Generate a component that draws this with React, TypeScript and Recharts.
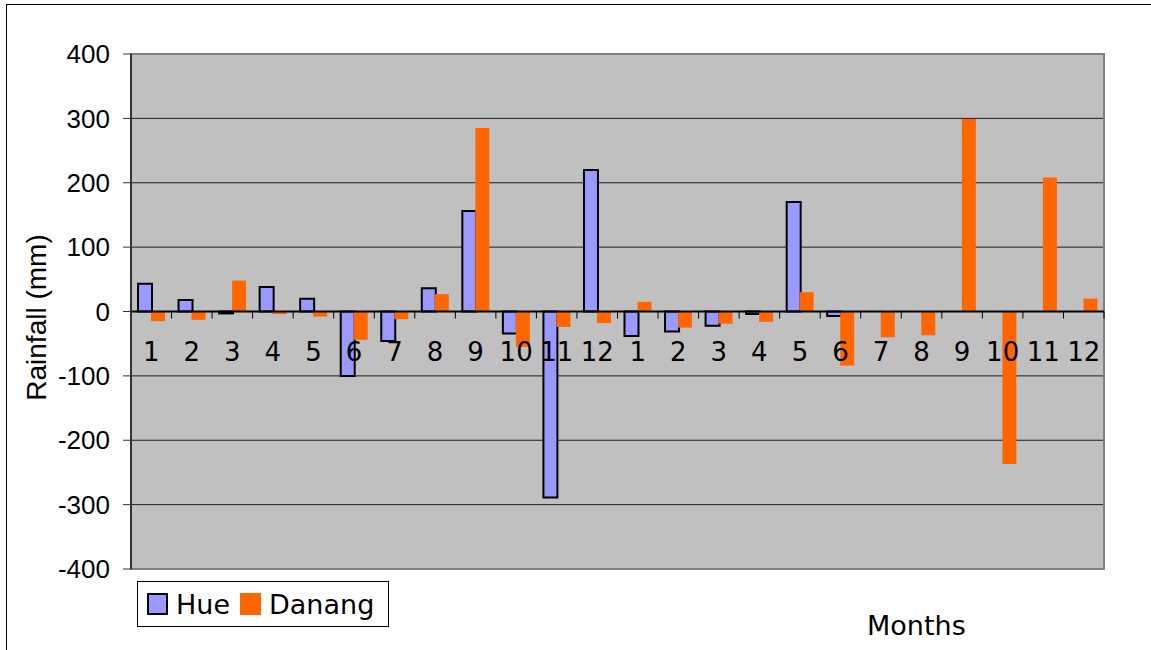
import React from "react";
import {
  BarChart,
  Bar,
  XAxis,
  YAxis,
  CartesianGrid,
  ReferenceLine,
  ReferenceArea,
  Legend,
  Label,
} from "recharts";

// two years of monthly rainfall anomaly
const MONTHS = ["1", "2", "3", "4", "5", "6", "7", "8", "9", "10", "11", "12", "1", "2", "3", "4", "5", "6", "7", "8", "9", "10", "11", "12"];
const HUE = [43, 18, -3, 38, 20, -100, -46, 36, 156, -34, -289, 220, -38, -31, -22, -4, 170, -7, null, null, null, null, null, null];
const DANANG = [-15, -13, 48, -4, -8, -44, -12, 27, 285, -55, -24, -18, 15, -25, -19, -16, 30, -84, -40, -37, 299, -237, 208, 20];
const Y_TICKS = [-400, -300, -200, -100, 0, 100, 200, 300, 400];

const data = MONTHS.map((m, i) => ({ key: `m${i}`, month: m, Hue: HUE[i], Danang: DANANG[i] }));

const W = 1151;
const H = 650;
const X_AXIS_H = 20;
const MARGIN = { top: 54, right: 47, bottom: 81 - X_AXIS_H, left: 0 };
const Y_AXIS_W = 131;
const PLOT_TOP = MARGIN.top;
const PLOT_BOTTOM = H - MARGIN.bottom - X_AXIS_H;
const ZERO_Y = (PLOT_TOP + PLOT_BOTTOM) / 2;
const BAND = (W - MARGIN.right - Y_AXIS_W) / MONTHS.length;

const verdana = "Verdana, 'DejaVu Sans', sans-serif";
const arial = "Arial, 'Liberation Sans', sans-serif";

function MonthTick(props: any) {
  const { x, index } = props;
  return (
    <g>
      <line x1={x + BAND / 2} x2={x + BAND / 2} y1={ZERO_Y} y2={ZERO_Y + 7} stroke="#000" strokeWidth={1} />
      <text x={x} y={ZERO_Y + 40} textAnchor="middle" dominantBaseline="central" fontFamily={verdana} fontSize={26} fill="#000">
        {MONTHS[index]}
      </text>
    </g>
  );
}

function LegendBox() {
  const items = [
    { name: "Hue", fill: "#9999FF", stroke: "#000" },
    { name: "Danang", fill: "#FF6600", stroke: "#FF6600" },
  ];
  return (
    <div
      style={{
        border: "1px solid #000",
        background: "#fff",
        width: 252,
        height: 46,
        display: "flex",
        alignItems: "center",
        paddingLeft: 9,
        boxSizing: "border-box",
        fontFamily: verdana,
        fontSize: 27,
        color: "#000",
      }}
    >
      {items.map((it) => (
        <span key={it.name} style={{ display: "flex", alignItems: "center", marginRight: 10 }}>
          <span
            style={{
              display: "inline-block",
              width: 17,
              height: 18,
              background: it.fill,
              border: `2px solid ${it.stroke}`,
              marginRight: 8,
            }}
          />
          {it.name}
        </span>
      ))}
    </div>
  );
}

export default function App() {
  return (
    <div style={{ position: "fixed", left: 0, top: 0, width: W, height: H, overflow: "hidden", background: "#fff" }}>
      <div style={{ position: "absolute", left: 6, top: 4, width: W + 20, height: H + 20, border: "1px solid #000" }} />
      <div style={{ position: "absolute", left: 0, top: 0 }}>
        <BarChart width={W} height={H} data={data} margin={MARGIN} barGap={-1} barSize={14}>
          <CartesianGrid vertical={false} fill="#C0C0C0" stroke="#000" strokeOpacity={0.85} />
          <XAxis
            dataKey="key"
            height={X_AXIS_H}
            interval={0}
            axisLine={false}
            tickLine={false}
            tick={(p: any) => <MonthTick {...p} />}
          >
            <Label
              content={() => (
                <text x={867} y={635} fontFamily={verdana} fontSize={27} fill="#000">
                  Months
                </text>
              )}
            />
          </XAxis>
          <YAxis
            domain={[-400, 400]}
            ticks={Y_TICKS}
            width={Y_AXIS_W}
            interval={0}
            tickSize={8}
            tickMargin={13}
            axisLine={{ stroke: "#333", strokeWidth: 2 }}
            tickLine={{ stroke: "#333" }}
            tick={{ fontFamily: arial, fontSize: 26, fill: "#000" }}
          >
            <Label
              content={({ viewBox }: any) => {
                const cx = 36;
                const cy = viewBox.y + viewBox.height / 2 + 6;
                return (
                  <text
                    x={cx}
                    y={cy}
                    transform={`rotate(-90 ${cx} ${cy})`}
                    textAnchor="middle"
                    dominantBaseline="central"
                    fontFamily={arial}
                    fontSize={28}
                    fill="#000"
                  >
                    Rainfall (mm)
                  </text>
                );
              }}
            />
          </YAxis>
          <ReferenceArea y1={-400} y2={400} fill="none" stroke="#808080" strokeWidth={2} ifOverflow="visible" />
          <ReferenceLine y={0} stroke="#000" strokeWidth={2} />
          <Legend
            layout="horizontal"
            verticalAlign="middle"
            align="center"
            content={() => <LegendBox />}
            wrapperStyle={{ position: "absolute", left: 137, top: 581, width: 252, height: 46 }}
          />
          <Bar dataKey="Hue" fill="#9999FF" stroke="#000" strokeWidth={2} isAnimationActive={false} />
          <Bar dataKey="Danang" fill="#FF6600" isAnimationActive={false} />
        </BarChart>
      </div>
    </div>
  );
}
